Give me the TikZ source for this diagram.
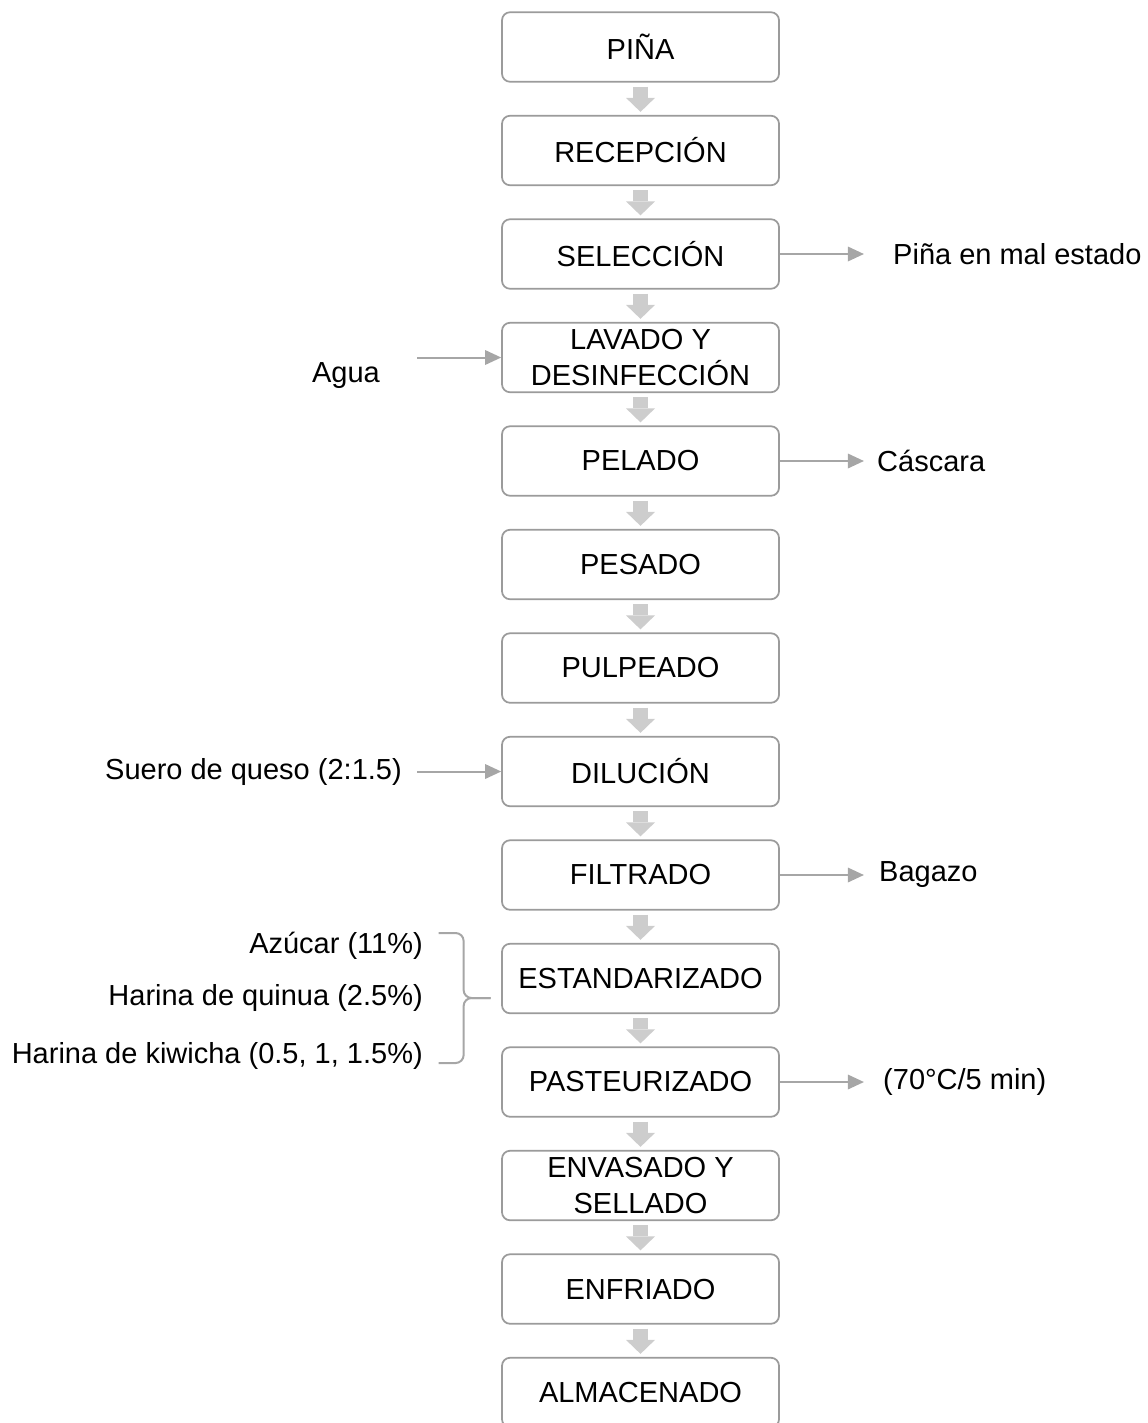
\documentclass[tikz,border=0pt]{standalone}
\usepackage{fontspec}
\setmainfont{Liberation Sans}
\usetikzlibrary{arrows.meta, positioning, calc}
\definecolor{flowBorder}{RGB}{155,155,155}
\definecolor{flowBlock}{RGB}{205,205,205}
\definecolor{flowLine}{RGB}{166,166,166}
\tikzset{
    flowchart/.style={line cap=butt, line join=round,
                      font=\fontsize{16.5pt}{21pt}\selectfont},
    stage/.style={draw=flowBorder, line width=0.035cm, rounded corners=0.16cm,
                  fill=white, minimum width=5.54cm, minimum height=1.39cm,
                  inner sep=2pt, align=center},
    blockarrow/.style={draw=flowBlock, line width=0.3cm,
                       -{Triangle[length=0.28cm 0 0, width=0.58cm 0 0, line width=0pt 0 0]},
                       shorten <=0.08cm, shorten >=0.06cm},
    sidearrow/.style={draw=flowLine, line width=0.04cm,
                      -{Triangle[length=0.32cm 0 0, width=0.3cm 0 0, line width=0pt 0 0]}},
    sidelabel/.style={inner sep=0pt},
    brace/.style={draw=flowLine, line width=0.04cm, rounded corners=0.16cm},
}

\begin{document}
\begin{tikzpicture}[flowchart, node distance=0.645cm]
\useasboundingbox (0,0) rectangle (22.96,-28.46);
\clip (0,0) rectangle (22.96,-28.46);

% ─── Etapas del proceso ─────────────────────────────────────────────────
\node[stage] (pina) at (12.81,-0.94) {PIÑA};
\node[stage, below=of pina]      (recepcion) {RECEPCIÓN};
\node[stage, below=of recepcion] (seleccion) {SELECCIÓN};
\node[stage, below=of seleccion] (lavado)    {LAVADO Y\\DESINFECCIÓN};
\node[stage, below=of lavado]    (pelado)    {PELADO};
\node[stage, below=of pelado]    (pesado)    {PESADO};
\node[stage, below=of pesado]    (pulpeado)  {PULPEADO};
\node[stage, below=of pulpeado]  (dilucion)  {DILUCIÓN};
\node[stage, below=of dilucion]  (filtrado)  {FILTRADO};
\node[stage, below=of filtrado]  (estandar)  {ESTANDARIZADO};
\node[stage, below=of estandar]  (pasteur)   {PASTEURIZADO};
\node[stage, below=of pasteur]   (envasado)  {ENVASADO Y\\SELLADO};
\node[stage, below=of envasado]  (enfriado)  {ENFRIADO};
\node[stage, below=of enfriado]  (almacen)   {ALMACENADO};

\draw[blockarrow] (pina)      -- (recepcion);
\draw[blockarrow] (recepcion) -- (seleccion);
\draw[blockarrow] (seleccion) -- (lavado);
\draw[blockarrow] (lavado)    -- (pelado);
\draw[blockarrow] (pelado)    -- (pesado);
\draw[blockarrow] (pesado)    -- (pulpeado);
\draw[blockarrow] (pulpeado)  -- (dilucion);
\draw[blockarrow] (dilucion)  -- (filtrado);
\draw[blockarrow] (filtrado)  -- (estandar);
\draw[blockarrow] (estandar)  -- (pasteur);
\draw[blockarrow] (pasteur)   -- (envasado);
\draw[blockarrow] (envasado)  -- (enfriado);
\draw[blockarrow] (enfriado)  -- (almacen);

% ─── Salidas ────────────────────────────────────────────────────────────
\coordinate[right=1.68cm of seleccion] (descarteOut);
\node[sidelabel, right=0.58cm of descarteOut] (descarte) {Piña en mal estado};
\draw[sidearrow] (seleccion) -- (descarteOut);

\coordinate[right=1.68cm of pelado] (cascaraOut);
\node[sidelabel, right=0.26cm of cascaraOut] (cascara) {Cáscara};
\draw[sidearrow] (pelado) -- (cascaraOut);

\coordinate[right=1.68cm of filtrado] (bagazoOut);
\node[sidelabel, right=0.3cm of bagazoOut] (bagazo) {Bagazo};
\draw[sidearrow] (filtrado) -- (bagazoOut);

\coordinate[right=1.68cm of pasteur] (tratamientoOut);
\node[sidelabel, right=0.38cm of tratamientoOut] (tratamiento) {(70°C/5 min)};
\draw[sidearrow] (pasteur) -- (tratamientoOut);

% ─── Entradas ───────────────────────────────────────────────────────────
\coordinate[left=1.68cm of lavado] (aguaIn);
\node[sidelabel, anchor=east] (agua) at ([xshift=-0.74cm, yshift=-0.36cm]aguaIn) {Agua};
\draw[sidearrow] (aguaIn) -- (lavado);

\coordinate[left=1.68cm of dilucion] (sueroIn);
\node[sidelabel, left=0.3cm of sueroIn] (suero) {Suero de queso (2:1.5)};
\draw[sidearrow] (sueroIn) -- (dilucion);

% ─── Insumos del estandarizado ──────────────────────────────────────────
\node[sidelabel, anchor=east] (quinua) at ([xshift=-1.56cm, yshift=-0.39cm]estandar.west)
    {Harina de quinua (2.5\%)};
\node[sidelabel, anchor=east] (azucar)  at ([yshift=1.04cm]quinua.east)  {Azúcar (11\%)};
\node[sidelabel, anchor=east] (kiwicha) at ([yshift=-1.16cm]quinua.east) {Harina de kiwicha (0.5, 1, 1.5\%)};

\coordinate (braceTip) at ($(estandar.west |- quinua.east)+(-0.21,0)$);
\draw[brace] (braceTip) -- ++(-0.54,0) |- ++(-0.5,1.3);
\draw[brace] (braceTip) -- ++(-0.54,0) |- ++(-0.5,-1.3);

\end{tikzpicture}
\end{document}
